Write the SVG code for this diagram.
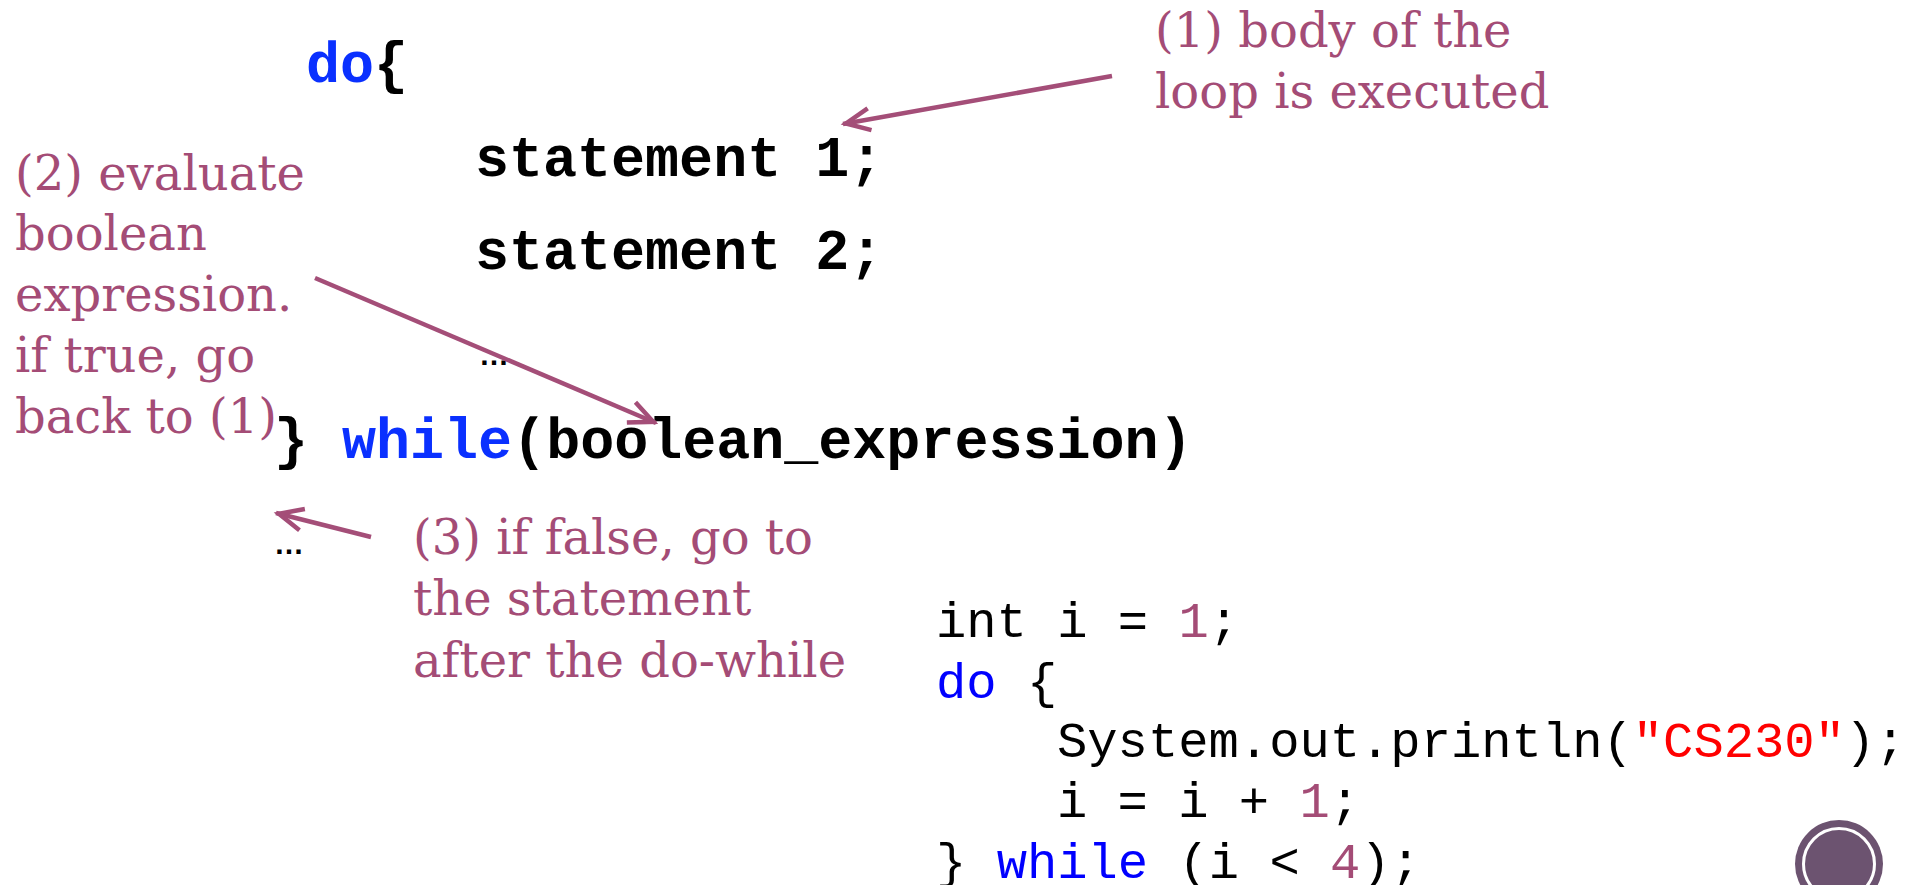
<svg xmlns="http://www.w3.org/2000/svg" width="1921" height="885" viewBox="0 0 1921 885">
  <style>
    .code { font-family: "Liberation Mono", "Courier New", monospace; font-weight: bold; font-size: 56.7px; fill: #000; }
    .kw { fill: #0a30ff; }
    .note { font-family: "DejaVu Serif", "Liberation Serif", serif; font-size: 48px; fill: #a44c76; }
    .ex { font-family: "Liberation Mono", "Courier New", monospace; font-size: 50.5px; fill: #000; }
    .exkw { fill: #0000ff; }
    .exnum { fill: #a44c76; }
    .exstr { fill: #ff0000; }
    .dots { font-family: "Liberation Sans", Arial, sans-serif; font-weight: bold; font-size: 30px; fill: #000; }
    .conn { fill: none; stroke: #a44e78; stroke-width: 4.5; marker-end: url(#openHead); }
  </style>
  <defs>
    <marker id="openHead" markerUnits="userSpaceOnUse" markerWidth="40" markerHeight="40" refX="3" refY="0" orient="auto" overflow="visible">
      <path d="M-24,-11 L0,0 L-24,11" fill="none" stroke="#a44e78" stroke-width="4.5"/>
    </marker>
  </defs>
  <rect width="1921" height="885" fill="#ffffff"/>

  <!-- general do-while form -->
  <g id="syntax">
    <text class="code" x="306" y="82"><tspan class="kw">do</tspan>{</text>
    <text class="code" x="475" y="176">statement 1;</text>
    <text class="code" x="475" y="269">statement 2;</text>
    <text class="dots" x="479" y="365">…</text>
    <text class="code" x="274" y="458">} <tspan class="kw">while</tspan>(boolean_expression)</text>
    <text class="dots" x="274" y="554">…</text>
  </g>

  <!-- step notes -->
  <g id="note-1">
    <text class="note" x="1155" y="47">(1) body of the</text>
    <text class="note" x="1155" y="108">loop is executed</text>
  </g>
  <g id="note-2">
    <text class="note" x="15" y="190">(2) evaluate</text>
    <text class="note" x="15" y="250">boolean</text>
    <text class="note" x="15" y="311">expression.</text>
    <text class="note" x="15" y="372">if true, go</text>
    <text class="note" x="15" y="433">back to (1)</text>
  </g>
  <g id="note-3">
    <text class="note" x="413" y="554">(3) if false, go to</text>
    <text class="note" x="413" y="615">the statement</text>
    <text class="note" x="413" y="677">after the do-while</text>
  </g>

  <!-- example program -->
  <g id="example">
    <text class="ex" x="936" y="637">int i = <tspan class="exnum">1</tspan>;</text>
    <text class="ex" x="936" y="698"><tspan class="exkw">do</tspan> {</text>
    <text class="ex" x="1057" y="757">System.out.println(<tspan class="exstr">"CS230"</tspan>);</text>
    <text class="ex" x="1057" y="817">i = i + <tspan class="exnum">1</tspan>;</text>
    <text class="ex" x="936" y="878">} <tspan class="exkw">while</tspan> (i &lt; <tspan class="exnum">4</tspan>);</text>
  </g>

  <!-- corner badge -->
  <g id="badge">
    <circle cx="1839" cy="864" r="44" fill="#6c5370"/>
    <circle cx="1839" cy="864" r="35.5" fill="none" stroke="#ffffff" stroke-width="3"/>
  </g>

  <g id="connectors">
    <path class="conn" d="M1112,76 L843,124"/>
    <path class="conn" d="M315,278 L656,423"/>
    <path class="conn" d="M371,537 L276,513"/>
  </g>
</svg>
